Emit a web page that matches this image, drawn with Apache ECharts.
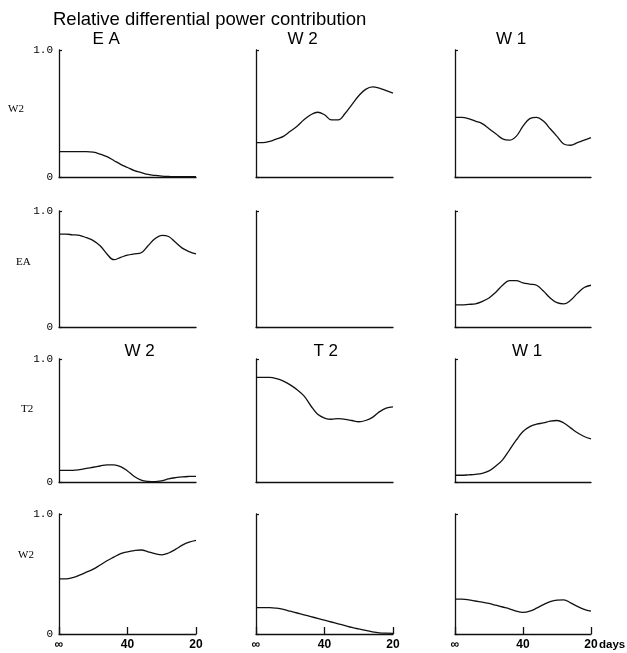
<!DOCTYPE html>
<html><head><meta charset="utf-8">
<script src="https://cdn.jsdelivr.net/npm/echarts@6/dist/echarts.min.js"></script>
<style>html,body{margin:0;padding:0;background:#fff}#c{width:627px;height:653px}</style>
</head><body><div id="c"></div>
<script>
// frequency axis, 1e-3 cycles/day: 0 = ∞ days, 25 = 40 days, 50 = 20 days
const freq = [0,2.5,5,7.5,10,12.5,15,17.5,20,22.5,25,27.5,30,32.5,35,37.5,40,42.5,45,47.5,50];
const xTickLabels = ['∞','40','20'];
const yTickLabels = ['0','1.0'];
const rowLabels = ['W2','EA','T2','W2'];
const titlesRow1 = ['E A','W 2','W 1'];
const titlesRow3 = ['W 2','T 2','W 1'];
const mainTitle = 'Relative differential power contribution';

// row 1 (W2)
const r1c1 = [0.20,0.20,0.20,0.20,0.20,0.195,0.18,0.16,0.13,0.10,0.075,0.05,0.035,0.02,0.012,0.007,0.004,0.002,0.002,0.002,0.002];
const r1c2 = [0.27,0.27,0.28,0.30,0.32,0.36,0.40,0.45,0.49,0.51,0.49,0.45,0.45,0.50,0.57,0.64,0.69,0.71,0.70,0.68,0.66];
const r1c3 = [0.47,0.47,0.46,0.44,0.42,0.38,0.34,0.30,0.29,0.32,0.40,0.46,0.47,0.44,0.38,0.32,0.26,0.25,0.27,0.29,0.31];
// row 2 (EA)
const r2c1 = [0.80,0.80,0.795,0.79,0.77,0.745,0.70,0.63,0.58,0.60,0.62,0.63,0.64,0.70,0.76,0.79,0.78,0.73,0.68,0.65,0.63];
const r2c2 = [];
const r2c3 = [0.19,0.19,0.195,0.20,0.22,0.25,0.30,0.36,0.40,0.40,0.38,0.37,0.36,0.31,0.25,0.21,0.20,0.23,0.29,0.34,0.36];
// row 3 (T2)
const r3c1 = [0.095,0.095,0.095,0.10,0.11,0.12,0.13,0.14,0.14,0.125,0.09,0.045,0.015,0.005,0.003,0.01,0.025,0.035,0.042,0.045,0.046];
const r3c2 = [0.85,0.85,0.85,0.84,0.82,0.79,0.75,0.70,0.62,0.55,0.52,0.51,0.515,0.51,0.50,0.49,0.50,0.525,0.57,0.60,0.61];
const r3c3 = [0.055,0.055,0.058,0.062,0.07,0.09,0.13,0.18,0.26,0.34,0.41,0.45,0.47,0.48,0.495,0.50,0.48,0.44,0.40,0.37,0.35];
// row 4 (W2)
const r4c1 = [0.46,0.46,0.47,0.49,0.515,0.54,0.575,0.61,0.64,0.67,0.685,0.695,0.70,0.685,0.67,0.66,0.675,0.705,0.74,0.765,0.78];
const r4c2 = [0.22,0.22,0.22,0.215,0.205,0.19,0.175,0.16,0.145,0.13,0.115,0.10,0.085,0.07,0.055,0.042,0.03,0.018,0.01,0.007,0.006];
const r4c3 = [0.29,0.29,0.285,0.275,0.265,0.255,0.24,0.225,0.21,0.19,0.18,0.19,0.215,0.245,0.27,0.283,0.285,0.26,0.23,0.205,0.19];

const panels = [[r1c1,r1c2,r1c3],[r2c1,r2c2,r2c3],[r3c1,r3c2,r3c3],[r4c1,r4c2,r4c3]];

const cols = [{left:59,width:137},{left:256,width:137},{left:455,width:136}];
const rows = [{top:50,height:127},{top:211,height:116},{top:359,height:123},{top:514,height:120}];
const rowLabelPos = [{left:8,top:104},{left:16,top:257},{left:21,top:404},{left:18,top:550}];

const grid=[],xAxis=[],yAxis=[],series=[];
const ink='#111';
rows.forEach((r,ri)=>{
  cols.forEach((c,ci)=>{
    const idx=grid.length;
    const bottomRow = ri===rows.length-1;
    grid.push({left:c.left,top:r.top,width:c.width,height:r.height,containLabel:false});
    xAxis.push({type:'value',gridIndex:idx,min:0,max:50,interval:25,
      axisLine:{show:true,onZero:false,lineStyle:{color:ink,width:1.3}},
      axisTick:{show:bottomRow,inside:true,length:7,lineStyle:{color:ink,width:1.3}},
      splitLine:{show:false},
      axisLabel:{show:bottomRow,margin:5,color:'#000',fontFamily:'Liberation Sans',fontSize:12,fontWeight:'bold',
        formatter:v=>xTickLabels[Math.round(v/25)]}
    });
    yAxis.push({type:'value',gridIndex:idx,min:0,max:1,interval:1,
      axisLine:{show:true,lineStyle:{color:ink,width:1.3}},
      axisTick:{show:true,inside:true,length:3,lineStyle:{color:ink,width:1.2}},
      splitLine:{show:false},
      axisLabel:{show:ci===0,margin:6,color:'#000',fontFamily:'Liberation Mono',fontSize:11,
        formatter:v=>yTickLabels[Math.round(v)]}
    });
    const vals = panels[ri][ci];
    if(vals.length){
      series.push({type:'line',xAxisIndex:idx,yAxisIndex:idx,smooth:0.4,symbol:'none',
        lineStyle:{color:ink,width:1.3},
        data:freq.map((f,i)=>[f,vals[i]])});
    }
  });
});

const titles=[{text:mainTitle,left:48,top:5,textStyle:{fontFamily:'Liberation Sans',fontWeight:'normal',fontSize:18.5,color:'#000'}}];
titlesRow1.forEach((t,ci)=>{
  const c=cols[ci];
  titles.push({text:t,left:c.left+c.width/2-20-(ci===0?20:ci===1?22:12),top:26,textStyle:{fontFamily:'Liberation Sans',fontWeight:'normal',fontSize:17,color:'#000'}});
});
titlesRow3.forEach((t,ci)=>{
  const c=cols[ci];
  titles.push({text:t,left:c.left+c.width/2-16+(ci===0?8:0),top:338,textStyle:{fontFamily:'Liberation Sans',fontWeight:'normal',fontSize:17,color:'#000'}});
});

const graphic=[];
rowLabels.forEach((t,ri)=>{
  graphic.push({type:'text',left:rowLabelPos[ri].left,top:rowLabelPos[ri].top,style:{text:t,font:'11px "Liberation Serif"',fill:'#000'}});
});
graphic.push({type:'text',left:599,top:rows[3].top+rows[3].height+5,style:{text:'days',font:'bold 11.5px "Liberation Sans"',fill:'#000'}});

const chart=echarts.init(document.getElementById('c'),null,{renderer:'canvas'});
chart.setOption({backgroundColor:'#fff',animation:false,title:titles,grid,xAxis,yAxis,series,graphic});
</script></body></html>
